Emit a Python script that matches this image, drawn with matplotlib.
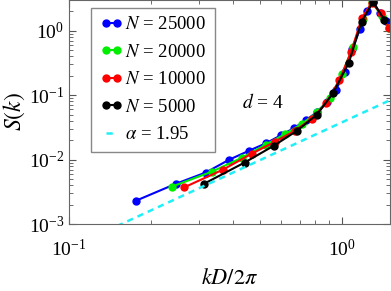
import matplotlib
matplotlib.use("Agg")
import matplotlib.pyplot as plt

plt.rcParams['font.family'] = ['Liberation Serif', 'DejaVu Serif']
plt.rcParams['mathtext.fontset'] = 'stix'

# N = 25000
k_25000 = [0.176, 0.246, 0.317, 0.387, 0.458, 0.528, 0.599, 0.669, 0.740, 0.810,
           0.881, 0.951, 1.022, 1.092, 1.163, 1.233, 1.304, 1.374, 1.445]
S_25000 = [0.0023, 0.0042, 0.0063, 0.0100, 0.0138, 0.018, 0.024, 0.031, 0.041, 0.055,
           0.078, 0.12, 0.23, 0.52, 1.05, 2.0, 2.8, 1.9, 1.4]
# N = 20000
k_20000 = [0.238, 0.334, 0.430, 0.525, 0.620, 0.715, 0.810, 0.905, 1.000, 1.095,
           1.190, 1.285, 1.400, 1.490]
S_20000 = [0.0038, 0.0065, 0.0107, 0.017, 0.025, 0.036, 0.054, 0.090, 0.21, 0.55,
           1.5, 2.8, 1.7, 1.1]
# N = 10000
k_10000 = [0.264, 0.367, 0.468, 0.570, 0.672, 0.774, 0.876, 0.978, 1.080, 1.185,
           1.285, 1.385, 1.490]
S_10000 = [0.0037, 0.0070, 0.0124, 0.019, 0.028, 0.043, 0.075, 0.17, 0.47, 1.6,
           2.7, 1.9, 1.1]
# N = 5000
k_5000 = [0.312, 0.440, 0.564, 0.684, 0.810, 0.927, 1.060, 1.180, 1.300, 1.430]
S_5000 = [0.0042, 0.0090, 0.0165, 0.028, 0.050, 0.107, 0.32, 1.38, 2.8, 1.48]

# power-law guide, alpha = 1.95 (end points)
k_line = [0.15, 1.5]
S_line = [0.00093, 0.0835]

fig = plt.figure(figsize=(3.91, 2.91), dpi=100)
ax = fig.add_axes([69/391, 67/291, 321/391, 224/291])

ms = 5
lw = 1.5
ax.plot(k_25000, S_25000, '-o', color='#0000ff', lw=lw, ms=ms, label=r'$N$ = 25000')
ax.plot(k_20000, S_20000, '-o', color='#00ee00', lw=lw, ms=ms, label=r'$N$ = 20000')
ax.plot(k_10000, S_10000, '-o', color='#ff0000', lw=lw, ms=ms, label=r'$N$ = 10000')
ax.plot(k_5000, S_5000, '-o', color='black', lw=lw, ms=ms, label=r'$N$ = 5000')
ax.plot(k_line, S_line, color='#1ff0f8', lw=1.8, dashes=(2.5, 2), label=r'$\alpha$ = 1.95')

ax.set_xscale('log')
ax.set_yscale('log')
ax.set_xlim(0.1, 1.5)
ax.set_ylim(1e-3, 3.0)

ax.tick_params(which='both', direction='in', top=True, right=True, colors='#555555',
               labelcolor='black', labelsize=14)
ax.tick_params(which='major', length=5)
ax.tick_params(which='minor', length=3)
ax.tick_params(axis='x', pad=11)
for s in ax.spines.values():
    s.set_color('#666666')

ax.set_xlabel(r'$kD/2\pi$', fontsize=16, labelpad=6)
ax.set_ylabel(r'$S(k)$', fontsize=17, labelpad=1)
ax.text(0.514, 0.078, r'$d$ = 4', fontsize=14, ha='center', va='center')

leg = ax.legend(loc='upper left', bbox_to_anchor=(0.07, 0.965), fontsize=13.5,
                numpoints=2, handlelength=1.2, handletextpad=0.15, labelspacing=0.55,
                borderpad=0.45, borderaxespad=0, fancybox=False, framealpha=1)
leg.get_frame().set_edgecolor('#888888')
leg.get_frame().set_linewidth(1.0)

fig.savefig('out.png', dpi=100)
